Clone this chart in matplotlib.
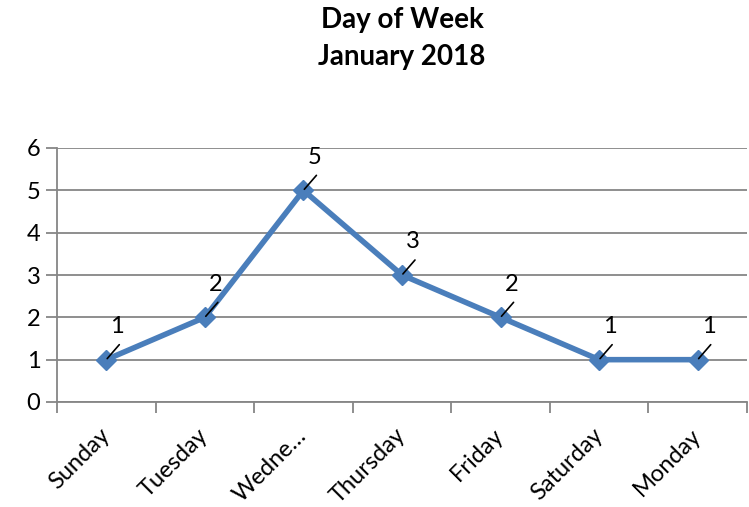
import matplotlib
matplotlib.use("Agg")
import matplotlib.pyplot as plt

days = ["Sunday", "Tuesday", "Wedne…", "Thursday", "Friday", "Saturday", "Monday"]
counts = [1, 2, 5, 3, 2, 1, 1]
yticks = [0, 1, 2, 3, 4, 5, 6]
title_lines = ["Day of Week", "January 2018"]

plt.rcParams['font.family'] = ['Lato', 'DejaVu Sans']

fig = plt.figure(figsize=(7.49, 5.07), dpi=100)
ax = fig.add_axes([57/749, 1-402/507, 690/749, 254/507])

x = list(range(len(days)))
line_color = "#4A7EBB"
grid_color = "#868686"

ax.plot(x, counts, color=line_color, lw=4, marker='D', markersize=10.5,
        markerfacecolor=line_color, markeredgecolor=line_color, zorder=3,
        solid_joinstyle='round')

ax.set_xlim(-0.5, len(days) - 0.5)
ax.set_ylim(0, 6)
ax.set_yticks(yticks)
ax.set_yticklabels([str(v) for v in yticks], fontsize=17)
for v in yticks:
    ax.axhline(v, color=grid_color, lw=1.3, zorder=1)

ax.set_xticks([i - 0.5 for i in range(len(days) + 1)], minor=False)
ax.set_xticklabels([])
ax.tick_params(axis='x', length=8, width=1.3, color=grid_color, direction='out')
ax.tick_params(axis='y', length=8, width=1.3, color=grid_color, direction='out', pad=4)

for s in ['top', 'right']:
    ax.spines[s].set_visible(False)
for s in ['left', 'bottom']:
    ax.spines[s].set_color(grid_color)
    ax.spines[s].set_linewidth(1.3)

for i, d in enumerate(days):
    ax.annotate(d, xy=(i, 0), xycoords='data', xytext=(0, -30), textcoords='offset pixels',
                rotation=45, rotation_mode='anchor', ha='right', va='center', fontsize=17)

for i, c in enumerate(counts):
    ax.annotate("", xy=(i, c), xytext=(13, 15), textcoords='offset pixels',
                arrowprops=dict(arrowstyle='-', color='black', lw=1.2, shrinkA=0, shrinkB=1))
    ax.annotate(str(c), xy=(i, c), xytext=(11, 33), textcoords='offset pixels',
                ha='center', va='center', fontsize=17)

cx = (57 + 747) / 2 / 749
fig.text(cx, 1 - 20/507, title_lines[0], ha='center', va='center', fontsize=20, fontweight='bold')
fig.text(cx, 1 - 57/507, title_lines[1], ha='center', va='center', fontsize=20, fontweight='bold')

fig.savefig("out.png", dpi=100)
